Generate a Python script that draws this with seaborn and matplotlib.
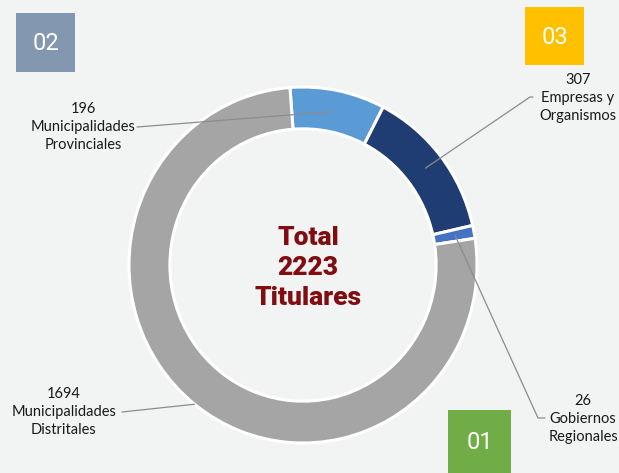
import numpy as np
import matplotlib
matplotlib.use("Agg")
import matplotlib.pyplot as plt
import seaborn as sns
from matplotlib.patches import Rectangle

# ---- data ----
categories = ["Municipalidades\nProvinciales", "Empresas y\nOrganismos",
              "Gobiernos\nRegionales", "Municipalidades\nDistritales"]
values = [196, 307, 26, 1694]
colors = ["#5b9bd5", "#1f3d73", "#4472c4", "#a5a5a5"]
total_label = ["Total", "2223", "Titulares"]
box_labels = ["02", "03", "01"]
box_colors = ["#8497b0", "#ffc000", "#70ad47"]

sns.set_theme(style="white")
plt.rcParams["font.family"] = ["Lato", "DejaVu Sans"]

W, H = 619, 473
BG = "#f2f3f3"
fig = plt.figure(figsize=(W / 100, H / 100), dpi=100, facecolor=BG)

def px(x, y):
    return (x / W, 1 - y / H)

# pie axes: center (303,265), rx 174, ry 178 px
cx, cy, rx, ry = 303, 265, 174, 178
span = 1.25
aw, ah = 2 * span * rx / W, 2 * span * ry / H
fx, fy = px(cx, cy)
ax = fig.add_axes([fx - aw / 2, fy - ah / 2, aw, ah])
ax.set_facecolor("none")
startangle = 94.3
wedges, _ = ax.pie(values, colors=colors, startangle=startangle, counterclock=False,
                   radius=1.0,
                   wedgeprops=dict(width=0.235, edgecolor="white", linewidth=2.2))
ax.set_aspect("auto")
ax.set_xlim(-span, span)
ax.set_ylim(-span, span)
ax.axis("off")

# mid angles of wedges
fracs = np.array(values) / sum(values)
ends = startangle - np.cumsum(fracs) * 360
starts = ends + fracs * 360
mids = (starts + ends) / 2

label_pos = [(83, 127), (578, 98), (583, 419), (64, 412)]
line_end = [(137, 127), (533, 97), (545, 418), (122, 412)]
anchor_r = [0.88, 0.89, 0.89, 1.0]
elbow = [None, (530, 97), (538, 418), None]

for i, (cat, v) in enumerate(zip(categories, values)):
    lx, ly = label_pos[i]
    fig.text(*px(lx, ly), f"{v}\n{cat}", ha="center", va="center",
             fontsize=10.5, color="#1a1a1a", linespacing=1.38)
    a = np.deg2rad(mids[i])
    r = anchor_r[i]
    ax_pt = (r * np.cos(a), r * np.sin(a))
    disp = ax.transData.transform(ax_pt)
    fpt = fig.transFigure.inverted().transform(disp)
    pts = [fpt]
    if elbow[i] is not None:
        pts.append(px(*elbow[i]))
    pts.append(px(*line_end[i]))
    xs = [p[0] for p in pts]
    ys = [p[1] for p in pts]
    fig.add_artist(plt.Line2D(xs, ys, transform=fig.transFigure,
                              color="#8c8c8c", lw=0.9))

# centre text
for t, y in zip(total_label, [238, 268, 298]):
    fig.text(*px(308, y), t, ha="center", va="center", fontsize=19,
             fontweight="heavy", color="#7f0d12", fontstretch="condensed",
             family=["Roboto", "DejaVu Sans"])

# numbered boxes
boxes = [(16, 13, 59, 59), (525, 7, 59, 58), (448, 410, 63, 65)]
for (bx, by, bw, bh), lab, col in zip(boxes, box_labels, box_colors):
    x0, y1 = px(bx, by + bh)
    fig.add_artist(Rectangle((x0, y1), bw / W, bh / H, transform=fig.transFigure,
                             facecolor=col, edgecolor="none"))
    fig.text(*px(bx + bw / 2, by + min(bh, 63) / 2 + 1), lab, ha="center", va="center",
             fontsize=17, color="white", family=["Roboto", "DejaVu Sans"],
             fontstretch="condensed")

fig.savefig("out.png", dpi=100, facecolor=BG)
